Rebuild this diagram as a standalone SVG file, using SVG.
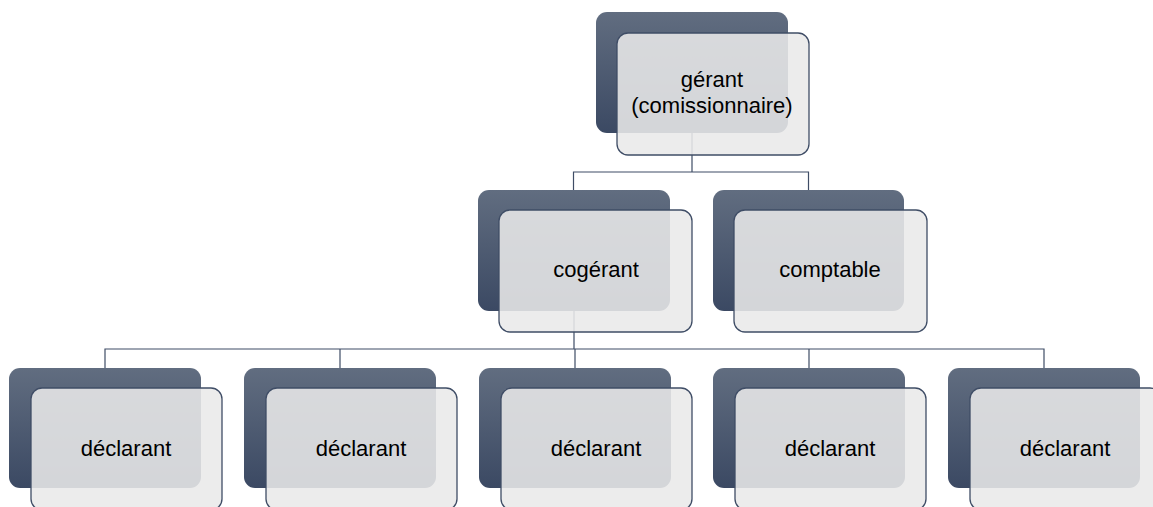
<svg xmlns="http://www.w3.org/2000/svg" width="1153" height="507" viewBox="0 0 1153 507">
<defs>
<linearGradient id="dk" x1="0" y1="0" x2="0" y2="1">
<stop offset="0" stop-color="#616d80"/>
<stop offset="1" stop-color="#3b4963"/>
</linearGradient>
</defs>
<style>
.dark{fill:url(#dk);}
.light{fill:#e9e9e9;fill-opacity:0.88;stroke:#3f4d66;stroke-width:1.3;}
.conn{fill:none;stroke:#3f4d66;stroke-width:1.2;}
.lbl{font-family:"Liberation Sans",Arial,sans-serif;font-size:22px;fill:#000;text-anchor:middle;}
</style>
<rect width="1153" height="507" fill="#fff"/>
<g id="connectors">
<path class="conn" d="M692,133 V172 M573.5,190 V172 H808.5 V190"/>
<path class="conn" d="M574,311 V349 M105,368 V349 H1044 V368 M340,349 V368 M575,349 V368 M809,349 V368"/>
</g>
<g id="n-gerant">
<rect class="dark" x="596" y="12" width="192" height="121" rx="11"/>
<rect class="light" x="617" y="33" width="192" height="122" rx="11"/>
<text class="lbl" x="712" y="87">gérant</text>
<text class="lbl" x="712" y="113">(comissionnaire)</text>
</g>
<g id="n-cogerant">
<rect class="dark" x="478" y="190" width="192" height="121" rx="11"/>
<rect class="light" x="499" y="210" width="193" height="122" rx="11"/>
<text class="lbl" x="596" y="277">cogérant</text>
</g>
<g id="n-comptable">
<rect class="dark" x="713" y="190" width="191" height="121" rx="11"/>
<rect class="light" x="734" y="210" width="193" height="122" rx="11"/>
<text class="lbl" x="830" y="277">comptable</text>
</g>
<g id="n-declarant1">
<rect class="dark" x="9" y="368" width="192" height="120" rx="11"/>
<rect class="light" x="31" y="388" width="191" height="122" rx="11"/>
<text class="lbl" x="126" y="456">déclarant</text>
</g>
<g id="n-declarant2">
<rect class="dark" x="244" y="368" width="192" height="120" rx="11"/>
<rect class="light" x="266" y="388" width="191" height="122" rx="11"/>
<text class="lbl" x="361" y="456">déclarant</text>
</g>
<g id="n-declarant3">
<rect class="dark" x="479" y="368" width="192" height="120" rx="11"/>
<rect class="light" x="501" y="388" width="191" height="122" rx="11"/>
<text class="lbl" x="596" y="456">déclarant</text>
</g>
<g id="n-declarant4">
<rect class="dark" x="713" y="368" width="192" height="120" rx="11"/>
<rect class="light" x="735" y="388" width="191" height="122" rx="11"/>
<text class="lbl" x="830" y="456">déclarant</text>
</g>
<g id="n-declarant5">
<rect class="dark" x="948" y="368" width="192" height="120" rx="11"/>
<rect class="light" x="970" y="388" width="191" height="122" rx="11"/>
<text class="lbl" x="1065" y="456">déclarant</text>
</g>
</svg>
